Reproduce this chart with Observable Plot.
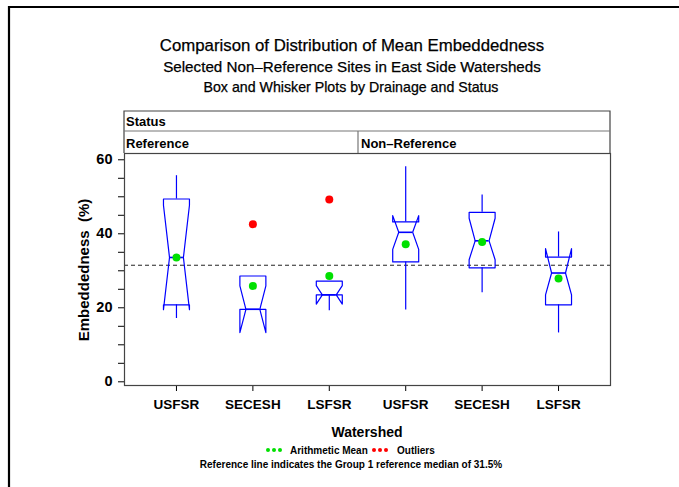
<!DOCTYPE html>
<html><head><meta charset="utf-8">
<script src="https://cdn.jsdelivr.net/npm/d3@7"></script>
<script src="https://cdn.jsdelivr.net/npm/@observablehq/plot@0.6"></script>
<style>body{margin:0;background:#fff;} svg{display:block;}</style>
</head><body><div id="chart"></div>
<script>
// ---- data ----
const statusGroups = ["Reference", "Non\u2013Reference"];
const statusOf = ["Reference","Reference","Reference","Non\u2013Reference","Non\u2013Reference","Non\u2013Reference"];
const watershed = ["USFSR","SECESH","LSFSR","USFSR","SECESH","LSFSR"];
const whiskerLow  = [17.1, 19.6, 19.2, 19.4, 24.1, 13.2];
const q1          = [20.8, 19.6, 23.5, 32.4, 30.8, 20.8];
const median      = [33.6, 19.6, 23.5, 40.4, 38.1, 29.4];
const q3          = [49.4, 28.6, 27.2, 43.2, 45.8, 33.7];
const whiskerHigh = [55.7, 28.6, 27.2, 58.1, 50.5, 40.5];
const notchLow    = [19.5, 13.3, 21.0, 35.8, 33.0, 23.5];
const notchHigh   = [47.7, 25.9, 26.0, 44.9, 44.2, 36.0];
const means       = [33.6, 25.9, 28.6, 37.2, 37.8, 27.9];
const outlierGroup = [2, 3];
const outlierValue = [42.6, 49.3];
const refMedian = 31.5;
const yTickLabels = [0, 20, 40, 60];
const yMinorTicks = [0,5,10,15,20,25,30,35,40,45,50,55,60];

const titles = ["Comparison of Distribution of Mean Embeddedness",
  "Selected Non\u2013Reference Sites in East Side Watersheds",
  "Box and Whisker Plots by Drainage and Status"];
const footnote = "Reference line indicates the Group 1 reference median of 31.5%";

// ---- build tables ----
const positions = watershed.map((_, i) => i + 1);
const boxes = positions.map((p, i) => ({pos: p, lo: whiskerLow[i], q1: q1[i], med: median[i], q3: q3[i], hi: whiskerHigh[i], nlo: notchLow[i], nhi: notchHigh[i], mean: means[i]}));
const outliers = outlierGroup.map((g, i) => ({pos: g, value: outlierValue[i]}));

const W = 0.17, K = 0.079; // half box width, notch indent (x units)
const outline = [];
boxes.forEach((b, i) => {
  const L = b.pos - W, R = b.pos + W;
  [[L,b.q1],[L,b.nlo],[L+K,b.med],[L,b.nhi],[L,b.q3],[R,b.q3],[R,b.nhi],[R-K,b.med],[R,b.nlo],[R,b.q1],[L,b.q1]]
    .forEach(([x, y]) => outline.push({box: i, x, y}));
});

const font = "'Liberation Sans', Arial, Helvetica, sans-serif";
const blue = "#0000ff";

const chart = Plot.plot({
  width: 679, height: 487,
  marginLeft: 124, marginRight: 69, marginTop: 153, marginBottom: 102,
  style: {fontFamily: font, background: "white", color: "black"},
  x: {type: "linear", domain: [0.32, 6.68]},
  y: {domain: [-1, 61.7]},
  marks: [
    Plot.axisY({ticks: yMinorTicks, tickSize: 6, tickPadding: 6, tickFormat: d => yTickLabels.includes(d) ? String(d) : "", fontSize: 14.5, fontWeight: "bold", label: null}),
    Plot.axisX({ticks: positions, tickSize: 6, tickPadding: 8, tickFormat: i => watershed[i - 1], fontSize: 13.5, fontWeight: "bold", label: null}),
    Plot.ruleY([refMedian], {stroke: "#222", strokeWidth: 1, strokeDasharray: "4,3"}),
    Plot.ruleX(boxes, {x: "pos", y1: "q3", y2: "hi", stroke: blue, strokeWidth: 1.2}),
    Plot.ruleX(boxes, {x: "pos", y1: "lo", y2: "q1", stroke: blue, strokeWidth: 1.2}),
    Plot.line(outline, {x: "x", y: "y", z: "box", stroke: blue, strokeWidth: 1.2, curve: "linear"}),
    Plot.ruleY(boxes, {y: "med", x1: d => d.pos - W + K, x2: d => d.pos + W - K, stroke: blue, strokeWidth: 1.6}),
    Plot.dot(boxes, {x: "pos", y: "mean", r: 4, fill: "#00e000", stroke: "none"}),
    Plot.dot(outliers, {x: "pos", y: "value", r: 4, fill: "#ff0000", stroke: "none"}),
    Plot.frame({stroke: "#444", strokeWidth: 1.2})
  ]
});

const svg = d3.select(chart);
// outer border
svg.append("path").attr("d", "M9,487V7H679").attr("fill", "none").attr("stroke", "black").attr("stroke-width", 2.2);
// header strips
const g = svg.append("g").attr("fill", "none");
g.append("path").attr("d", "M124,153V111H610V153").attr("stroke", "#444").attr("stroke-width", 1.2);
g.append("path").attr("d", "M124,131H610").attr("stroke", "#777").attr("stroke-width", 1.2);
g.append("path").attr("d", "M358,131V153").attr("stroke", "#777").attr("stroke-width", 1.2);

function txt(x, y, s, size, weight, anchor, extra) {
  const t = svg.append("text").attr("x", x).attr("y", y).text(s)
    .attr("font-family", font).attr("font-size", size).attr("font-weight", weight || "normal")
    .attr("text-anchor", anchor || "middle").attr("fill", "black");
  if (extra) extra(t);
  return t;
}
txt(352, 51, titles[0], 16.8, "normal", "middle", t => t.attr("stroke", "black").attr("stroke-width", 0.25));
txt(352, 72, titles[1], 15.2, "normal", "middle", t => t.attr("stroke", "black").attr("stroke-width", 0.25));
txt(351, 92, titles[2], 14.2, "normal", "middle", t => t.attr("stroke", "black").attr("stroke-width", 0.25));
txt(126, 126, "Status", 13, "bold", "start");
txt(126, 148, statusGroups[0], 13, "bold", "start");
txt(361, 148, statusGroups[1], 13, "bold", "start");
txt(0, 0, "Embeddedness\u00a0 (%)", 15, "bold", "middle", t => t.attr("transform", "translate(89,270) rotate(-90)"));
txt(367, 437, "Watershed", 14, "bold");
// legend
const ly = 450;
svg.append("g").selectAll("circle").data([0,1,2,0,1,2].map((k, i) => ({k, c: i < 3 ? "#00e000" : "#ff0000", x: (i < 3 ? 268 : 374) + k * 6})))
  .join("circle").attr("cx", d => d.x).attr("cy", ly).attr("r", 2).attr("fill", d => d.c);
txt(290, ly + 3.5, "Arithmetic Mean", 10, "bold", "start");
txt(397, ly + 3.5, "Outliers", 10, "bold", "start");
txt(351, 468, footnote, 10, "bold");

document.getElementById("chart").appendChild(chart);
</script>
</body></html>
